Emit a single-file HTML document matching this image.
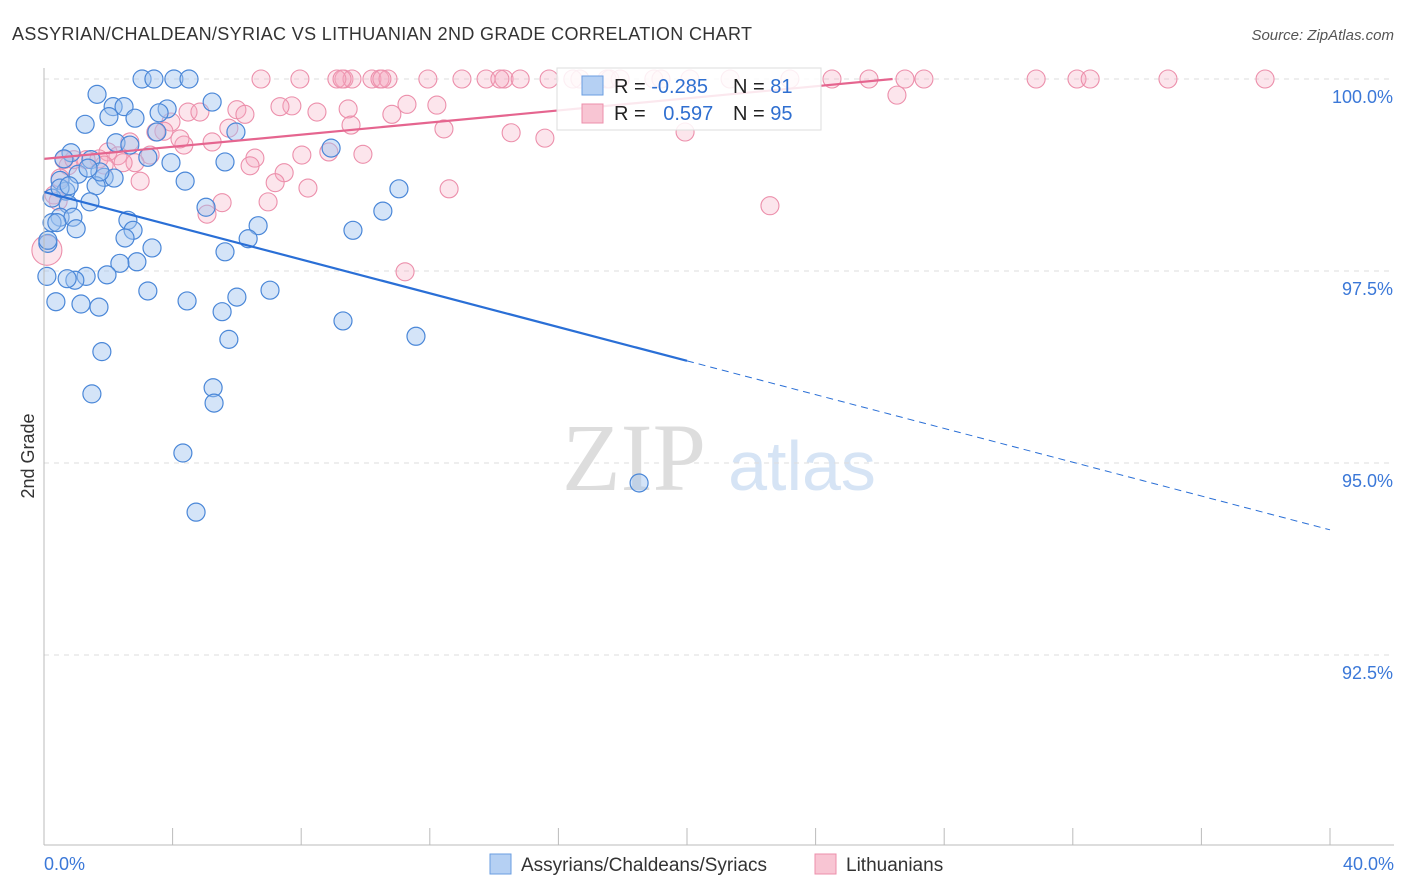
<!DOCTYPE html>
<html><head><meta charset="utf-8">
<style>
body{margin:0;background:#fff;font-family:"Liberation Sans",sans-serif;}
#wrap{position:relative;width:1406px;height:892px;overflow:hidden;}
</style></head>
<body>
<div id="wrap">
<svg id="svg" width="1406" height="892" xmlns="http://www.w3.org/2000/svg">
<text x="12" y="40" font-size="18" fill="#333" textLength="740" lengthAdjust="spacing">ASSYRIAN/CHALDEAN/SYRIAC VS LITHUANIAN 2ND GRADE CORRELATION CHART</text>
<text x="1394" y="40" font-size="15" fill="#555" font-style="italic" text-anchor="end">Source: ZipAtlas.com</text>
<text x="634" y="490" font-size="96" fill="#ddd" font-family="Liberation Serif,serif" text-anchor="middle">ZIP</text>
<text x="802" y="490" font-size="70" fill="#d6e4f5" text-anchor="middle">atlas</text>
<g id="grid"></g>
<g id="marks"></g>
<g id="axes"></g>
<text x="34" y="456" font-size="18" fill="#333" text-anchor="middle" transform="rotate(-90 34 456)">2nd Grade</text>
<g>
<rect x="557" y="68" width="264" height="62" fill="#fff" fill-opacity="0.85" stroke="#ddd"/>
<rect x="582" y="76" width="21" height="19" fill="#b5d0f3" stroke="#6a9ee0"/>
<rect x="582" y="104" width="21" height="19" fill="#f8c5d3" stroke="#ec8fab"/>
<text x="614" y="93" font-size="20" fill="#222">R = <tspan fill="#2f6fd0">-0.285</tspan></text>
<text x="733" y="93" font-size="20" fill="#222">N = <tspan fill="#2f6fd0"> 81</tspan></text>
<text x="614" y="120" font-size="20" fill="#222">R = <tspan fill="#2f6fd0" dx="12">0.597</tspan></text>
<text x="733" y="120" font-size="20" fill="#222">N = <tspan fill="#2f6fd0">95</tspan></text>
</g>
<g>
<rect x="490" y="854" width="21" height="20" fill="#b5d0f3" stroke="#6a9ee0"/>
<text x="521" y="871" font-size="19" fill="#333">Assyrians/Chaldeans/Syriacs</text>
<rect x="815" y="854" width="21" height="20" fill="#f8c5d3" stroke="#ec8fab"/>
<text x="846" y="871" font-size="19" fill="#333">Lithuanians</text>
</g>
</svg>
</div>
<script>
const blueX=[3.05,3.42,4.04,4.51,1.65,5.23,2.15,2.49,3.83,2.02,2.83,3.58,1.28,5.97,3.51,2.24,2.67,8.93,3.23,0.84,0.62,1.46,5.63,3.95,1.06,1.87,2.18,0.50,4.39,1.62,0.68,11.04,0.25,1.43,0.75,5.04,10.54,0.50,0.90,2.61,0.25,0.40,6.66,1.00,2.77,9.61,2.52,6.35,3.36,0.12,5.63,2.89,2.36,1.96,1.31,0.96,0.72,0.09,3.23,7.03,6.00,0.37,1.15,1.71,4.45,5.54,9.30,11.57,5.75,1.80,5.26,5.29,1.49,4.32,18.51,4.73,0.12,0.50,0.78,1.74,1.37];
const blueY=[100,100,100,100,99.80,99.70,99.64,99.64,99.61,99.51,99.49,99.56,99.41,99.31,99.31,99.17,99.14,99.10,98.98,99.04,98.96,98.95,98.92,98.91,98.76,98.72,98.71,98.68,98.67,98.61,98.54,98.57,98.45,98.40,98.37,98.33,98.28,98.20,98.20,98.16,98.13,98.13,98.09,98.05,98.03,98.03,97.93,97.92,97.80,97.86,97.75,97.62,97.60,97.45,97.43,97.38,97.40,97.43,97.24,97.25,97.16,97.10,97.07,97.03,97.11,96.97,96.85,96.65,96.61,96.45,95.98,95.78,95.90,95.13,94.74,94.36,97.90,98.58,98.61,98.79,98.84];
const pinkX=[6.75,7.96,9.33,9.58,10.20,10.45,10.70,11.94,13.00,13.75,14.31,14.81,15.71,16.67,17.51,17.92,18.97,19.19,20.09,21.34,23.20,24.51,25.66,26.78,27.37,30.86,32.13,32.54,34.96,37.98,9.11,9.27,10.51,16.45,17.60,14.18,
7.71,7.34,8.49,9.46,11.29,12.22,6.00,6.25,4.48,4.85,3.95,3.73,3.48,5.75,9.55,12.44,14.53,15.58,19.94,26.53,10.82,5.23,4.35,2.67,1.99,2.30,1.71,0.62,0.75,1.31,3.30,2.83,2.46,4.23,6.56,6.41,8.02,8.86,9.92,7.47,7.19,8.21,12.60,6.97,5.54,5.07,2.99,0.50,0.31,0.44,0.09,22.58,11.23,1.87,0.93];
const pinkY=[100,100,100,100,100,100,100,100,100,100,100,100,100,100,100,100,100,100,100,100,100,100,100,100,100,100,100,100,100,100,100,100,100,100,100,100,
99.65,99.64,99.57,99.61,99.67,99.66,99.60,99.54,99.57,99.57,99.44,99.32,99.31,99.36,99.40,99.35,99.30,99.23,99.31,99.79,99.54,99.18,99.14,99.18,99.05,99.00,98.96,98.95,98.87,98.95,99.01,98.91,98.91,99.22,98.97,98.87,99.01,99.05,99.02,98.78,98.65,98.58,98.57,98.40,98.39,98.24,98.67,98.71,98.49,98.41,97.77,98.35,97.49,98.88,98.95];
const yTicks=[100,97.5,95,92.5];
const yTickLabels=["100.0%","97.5%","95.0%","92.5%"];
const xTicks=[0,4,8,12,16,20,24,28,32,36,40];
const blueTrend=[98.53,94.13];
const pinkTrend=[98.96,0.0394];

const NS="http://www.w3.org/2000/svg";
const X=v=>44+v*32.15;
const Y=v=>79+(100-v)*76.8;
function mk(tag,attrs,parent){const e=document.createElementNS(NS,tag);for(const k in attrs)e.setAttribute(k,attrs[k]);parent.appendChild(e);return e;}
const grid=document.getElementById('grid'),marks=document.getElementById('marks'),axes=document.getElementById('axes');
yTicks.forEach((t,i)=>{
  const l=mk('line',{x1:44,x2:1394,y1:Y(t),y2:Y(t),stroke:'#ddd','stroke-dasharray':'5,5'},grid);
  
  
  const tx=mk('text',{x:1393,y:Y(t)+24,'font-size':18,fill:'#3b78d8','text-anchor':'end'},axes);
  tx.textContent=yTickLabels[i];
  
  
});
const ax=mk('line',{x1:44,x2:1394,y1:845,y2:845,stroke:'#bbb'},axes);


const ay=mk('line',{x1:44,x2:44,y1:68,y2:845,stroke:'#bbb'},axes);


xTicks.forEach(t=>{
  const l=mk('line',{x1:X(t),x2:X(t),y1:828,y2:845,stroke:'#bbb'},axes);
  
  
});
const xl0=mk('text',{x:44,y:870,'font-size':18,fill:'#3b78d8'},axes);xl0.textContent='0.0%';


const xl1=mk('text',{x:1394,y:870,'font-size':18,fill:'#3b78d8','text-anchor':'end'},axes);xl1.textContent='40.0%';



pinkX.forEach((x,i)=>{
  const big=(x<0.2&&pinkY[i]<98);
  const c=mk('circle',{cx:X(x),cy:Y(pinkY[i]),r:big?15:9,fill:'#f5a9bf','fill-opacity':0.3,stroke:'#ec8fab','stroke-width':1.1},marks);
  
  
});
blueX.forEach((x,i)=>{
  const c=mk('circle',{cx:X(x),cy:Y(blueY[i]),r:9,fill:'#9fc3ef','fill-opacity':0.45,stroke:'#4a87d8','stroke-width':1.2},marks);
  
  
});
const by=x=>blueTrend[0]+(blueTrend[1]-blueTrend[0])*x/40;
const b1=mk('line',{x1:X(0),y1:Y(by(0)),x2:X(20),y2:Y(by(20)),stroke:'#2a6fd6','stroke-width':2.2},marks);


const b2=mk('line',{x1:X(20),y1:Y(by(20)),x2:X(40),y2:Y(by(40)),stroke:'#2a6fd6','stroke-width':1,'stroke-dasharray':'7,5'},marks);


const pEnd=(100-pinkTrend[0])/pinkTrend[1];
const p1=mk('line',{x1:X(0),y1:Y(pinkTrend[0]),x2:X(pEnd),y2:Y(100),stroke:'#e5658f','stroke-width':2.2},marks);


</script>
</body></html>
